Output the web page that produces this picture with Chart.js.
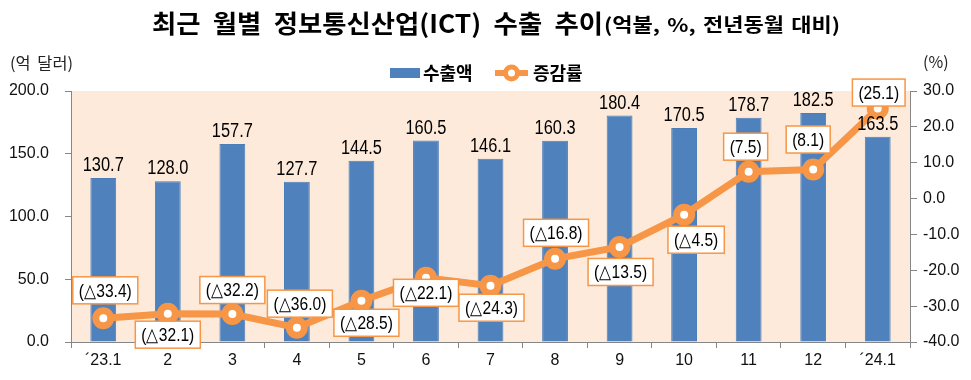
<!DOCTYPE html>
<html>
<head>
<meta charset="utf-8">
<script src="https://cdn.jsdelivr.net/npm/chart.js@4.4.1/dist/chart.umd.min.js"></script>
<style>
html,body{margin:0;padding:0;background:#fff;}
#wrap{width:971px;height:380px;position:relative;}
</style>
</head>
<body>
<div id="wrap"><canvas id="c" width="971" height="380"></canvas></div>
<script>
// ---- data ----
const categories = ["´23.1","2","3","4","5","6","7","8","9","10","11","12","´24.1"];
const exportValues = [130.7,128.0,157.7,127.7,144.5,160.5,146.1,160.3,180.4,170.5,178.7,182.5,163.5];
const growthRates = [-33.4,-32.1,-32.2,-36.0,-28.5,-22.1,-24.3,-16.8,-13.5,-4.5,7.5,8.1,25.1];
const leftTicks = [0,50,100,150,200];
const rightTicks = [-40,-30,-20,-10,0,10,20,30];
const seriesNames = ["수출액","증감률"];
const titleMain = "최근 월별 정보통신산업(ICT) 수출 추이";
const titleSub = "(억불, %, 전년동월 대비)";
const leftUnit = "(억 달러)";
const rightUnit = "(%)";

// ---- styles / label placement (not data) ----
const BLUE = "#4F81BD";
const ORANGE = "#F79646";
const SANS = "'Liberation Sans',Arial,sans-serif";
const KR = "'Noto Sans CJK KR','Noto Sans',sans-serif";
const NARROW_X = 0.82;
const lineLabelOffsets = [[2,-28],[0,21],[0,-24],[3,-24],[5,22],[0,15],[1,22],[1,-26],[1,25],[12,25],[-3,-25],[-5,-30],[1,-16]];

function fmtRate(v){ return v < 0 ? "(△" + Math.abs(v).toFixed(1) + ")" : "(" + v.toFixed(1) + ")"; }

function narrowText(ctx, text, x, y, sx){
  ctx.save();
  ctx.translate(x, y);
  ctx.scale(sx, 1);
  ctx.fillText(text, 0, 0);
  ctx.restore();
}

// draw text left-aligned at x, stretched/condensed to span targetW
function fitText(ctx, text, x, y, targetW, ws){
  try { ctx.wordSpacing = ws + "px"; } catch(e){}
  const w = ctx.measureText(text).width;
  const sx = targetW / w;
  ctx.save();
  ctx.translate(x, y);
  ctx.scale(sx, 1);
  ctx.textAlign = "left";
  ctx.fillText(text, 0, 0);
  ctx.restore();
  try { ctx.wordSpacing = "0px"; } catch(e){}
}

const bgPlugin = {
  id: "bg",
  beforeDraw(chart){
    const {ctx, chartArea:a} = chart;
    ctx.save();
    ctx.fillStyle = "#FDEADA";
    ctx.fillRect(a.left, a.top, a.right - a.left, a.bottom - a.top);
    ctx.restore();
  }
};

const decoPlugin = {
  id: "deco",
  afterDraw(chart){
    const ctx = chart.ctx;
    ctx.save();
    // title
    ctx.textBaseline = "middle";
    ctx.textAlign = "left";
    ctx.fillStyle = "#000";
    ctx.font = "bold 25px " + KR;
    fitText(ctx, titleMain, 152, 23, 451, 6);
    ctx.font = "bold 19px " + KR;
    fitText(ctx, titleSub, 604, 25, 236, 2);
    // units
    ctx.font = "16px " + KR;
    ctx.fillStyle = "#222";
    fitText(ctx, leftUnit, 10, 63, 63, 3);
    ctx.fillText(rightUnit, 923, 62);
    // legend
    ctx.fillStyle = BLUE;
    ctx.fillRect(390, 68, 30, 10);
    ctx.fillStyle = "#000";
    ctx.font = "bold 18px " + KR;
    ctx.fillText(chart.data.datasets[0].label, 423, 73);
    ctx.strokeStyle = ORANGE;
    ctx.lineWidth = 6;
    ctx.beginPath(); ctx.moveTo(495, 73); ctx.lineTo(528, 73); ctx.stroke();
    ctx.beginPath(); ctx.arc(511.5, 73, 6, 0, Math.PI*2);
    ctx.fillStyle = "#fff"; ctx.fill(); ctx.lineWidth = 5; ctx.stroke();
    ctx.fillStyle = "#000";
    ctx.fillText(chart.data.datasets[1].label, 533, 73);
    ctx.restore();
  }
};

const labelPlugin = {
  id: "vlabels",
  afterDatasetsDraw(chart){
    const ctx = chart.ctx;
    ctx.save();
    // bar labels
    const barMeta = chart.getDatasetMeta(0);
    ctx.font = "20px " + SANS;
    ctx.fillStyle = "#000";
    ctx.textAlign = "center";
    ctx.textBaseline = "alphabetic";
    barMeta.data.forEach((el, i) => {
      narrowText(ctx, exportValues[i].toFixed(1), el.x, el.y - 7, NARROW_X);
    });
    // line labels
    const lineMeta = chart.getDatasetMeta(1);
    ctx.font = "19px " + SANS;
    ctx.textBaseline = "middle";
    lineMeta.data.forEach((el, i) => {
      const t = fmtRate(growthRates[i]);
      const tw = ctx.measureText(t).width * NARROW_X;
      const bw = tw + 12, bh = 27;
      const cx = el.x + lineLabelOffsets[i][0];
      const cy = el.y + lineLabelOffsets[i][1];
      ctx.fillStyle = "#fff";
      ctx.fillRect(cx - bw/2, cy - bh/2, bw, bh);
      ctx.strokeStyle = ORANGE;
      ctx.lineWidth = 1.5;
      ctx.strokeRect(cx - bw/2, cy - bh/2, bw, bh);
      ctx.fillStyle = "#000";
      narrowText(ctx, t, cx, cy + 1, NARROW_X);
    });
    ctx.restore();
  }
};

const tickFont = {family: SANS, size: 16};
new Chart(document.getElementById("c"), {
  data: {
    labels: categories,
    datasets: [
      {type: "bar", label: seriesNames[0], data: exportValues, yAxisID: "y",
       backgroundColor: BLUE, borderColor: "#4A7EBB", borderWidth: 1,
       barPercentage: 0.4, categoryPercentage: 1.0, order: 2},
      {type: "line", label: seriesNames[1], data: growthRates, yAxisID: "y1",
       borderColor: ORANGE, borderWidth: 7, pointRadius: 7.5, pointBorderWidth: 7,
       pointBackgroundColor: "#fff", pointBorderColor: ORANGE, tension: 0, order: 1}
    ]
  },
  options: {
    responsive: false,
    animation: false,
    layout: {padding: {top: 91, left: 0, right: 0, bottom: 0}},
    plugins: {legend: {display: false}, title: {display: false}, tooltip: {enabled: false}},
    scales: {
      x: {
        offset: true,
        grid: {offset: true, drawOnChartArea: false, tickLength: 6, color: "#868686"},
        border: {color: "#868686"},
        ticks: {font: tickFont, color: "#111", padding: 3, maxRotation: 0, autoSkip: false},
        afterFit(s){ s.height = 38; }
      },
      y: {
        position: "left", min: 0, max: 200,
        afterBuildTicks(s){ s.ticks = leftTicks.map(v => ({value: v})); },
        ticks: {font: tickFont, color: "#111", padding: 16, callback: v => Number(v).toFixed(1)},
        grid: {drawOnChartArea: false, tickLength: 6, color: "#868686"},
        border: {color: "#868686"},
        afterFit(s){ s.width = 71; }
      },
      y1: {
        position: "right", min: -40, max: 30,
        afterBuildTicks(s){ s.ticks = rightTicks.map(v => ({value: v})); },
        ticks: {font: tickFont, color: "#111", padding: 6, callback: v => Number(v).toFixed(1)},
        grid: {drawOnChartArea: false, tickLength: 7, color: "#868686"},
        border: {color: "#868686"},
        afterFit(s){ s.width = 61; }
      }
    }
  },
  plugins: [bgPlugin, labelPlugin, decoPlugin]
});
</script>
</body>
</html>
